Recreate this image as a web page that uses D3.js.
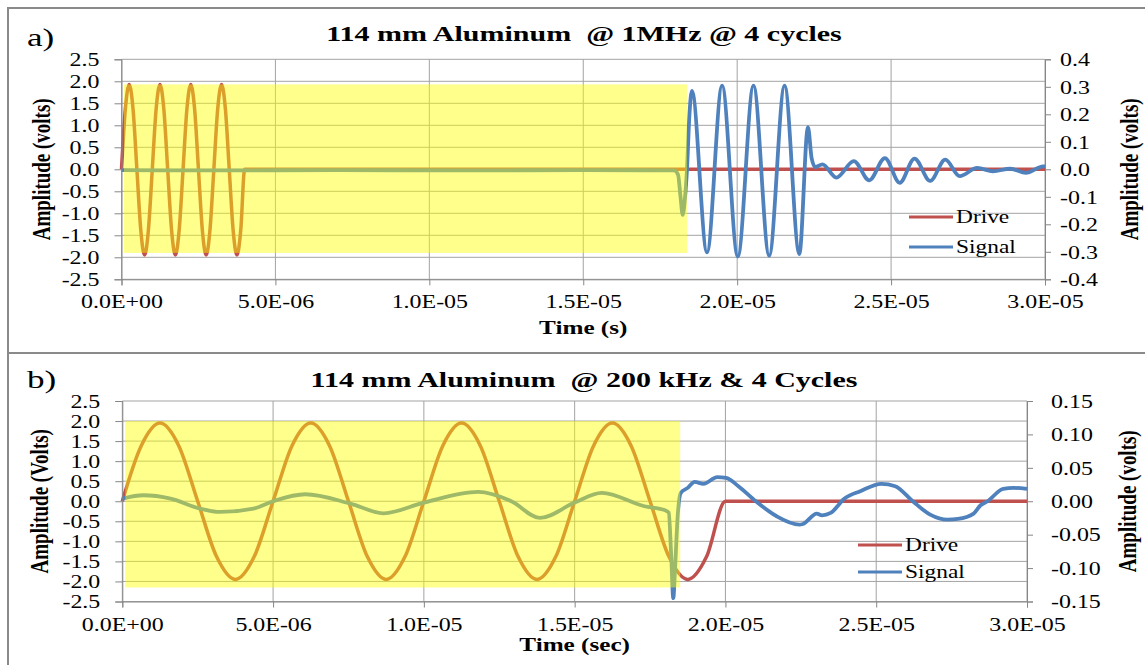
<!DOCTYPE html>
<html>
<head>
<meta charset="utf-8">
<script src="https://cdn.jsdelivr.net/npm/d3@7"></script>
<style>
  body { margin: 0; background: #fff; }
  svg { display: block; }
  text { font-family: "Liberation Serif", "Times New Roman", serif; white-space: pre; fill: #000; }
</style>
</head>
<body>
<div id="chart"></div>
<script>
// time in microseconds, drive in volts (left axis), signal in volts (right axis)
const driveA = [
  [0,0],[0.125,1.37],[0.25,1.93],[0.375,1.37],[0.5,0],[0.625,-1.37],[0.75,-1.95],[0.875,-1.37],
  [1,0],[1.125,1.37],[1.25,1.93],[1.375,1.37],[1.5,0],[1.625,-1.37],[1.75,-1.95],[1.875,-1.37],
  [2,0],[2.125,1.37],[2.25,1.93],[2.375,1.37],[2.5,0],[2.625,-1.37],[2.75,-1.95],[2.875,-1.37],
  [3,0],[3.125,1.37],[3.25,1.93],[3.375,1.37],[3.5,0],[3.625,-1.37],[3.75,-1.95],[3.875,-1.37],
  [4,0],[30,0]
];
const signalA = [
  [0,-0.003],[3,-0.004],[7,-0.003],[11,-0.004],[15,-0.003],[17.95,-0.004],[18.08,-0.02],
  [18.16,-0.1],[18.23,-0.166],[18.3,-0.11],[18.37,0],[18.45,0.2],[18.53,0.285],
  [19.02,-0.302],[19.51,0.304],[20.02,-0.317],[20.53,0.304],[21.04,-0.314],[21.54,0.304],
  [22.02,-0.308],[22.3,0.153],[22.42,0.04],[22.54,0.008],[22.77,0.018],[23.22,-0.03],
  [23.79,0.03],[24.29,-0.04],[24.8,0.041],[25.28,-0.049],[25.76,0.039],[26.27,-0.042],
  [26.76,0.035],[27.23,-0.025],[27.8,0.005],[28.31,-0.007],[28.87,0.002],[29.38,-0.013],
  [29.94,0.011],[30,0.011]
];
const driveB = [
  [0,0],[0.625,1.38],[1.25,1.95],[1.875,1.38],[2.5,0],[3.125,-1.38],[3.75,-1.95],[4.375,-1.38],
  [5,0],[5.625,1.38],[6.25,1.95],[6.875,1.38],[7.5,0],[8.125,-1.38],[8.75,-1.95],[9.375,-1.38],
  [10,0],[10.625,1.38],[11.25,1.95],[11.875,1.38],[12.5,0],[13.125,-1.38],[13.75,-1.95],[14.375,-1.38],
  [15,0],[15.625,1.38],[16.25,1.95],[16.875,1.38],[17.5,0],[18.125,-1.38],[18.75,-1.95],[19.375,-1.38],
  [20,0],[30,0]
];
const signalB = [
  [0,0.004],[0.7,0.009],[1.6,0.004],[2.58,-0.011],[3.24,-0.016],[4.35,-0.011],[5,0],
  [6.07,0.0105],[7.56,-0.0035],[8.66,-0.018],[10,-0.002],[11.8,0.014],[12.9,0],
  [13.85,-0.025],[15,-0.002],[15.9,0.0125],[17.31,-0.0075],[18,-0.0135],[18.12,-0.017],
  [18.2,-0.08],[18.27,-0.145],[18.33,-0.1],[18.42,-0.02],[18.52,0.0125],[18.75,0.02],
  [18.98,0.029],[19.27,0.026],[19.73,0.036],[20.02,0.035],[20.43,0.0225],[21.01,0],
  [21.7,-0.0225],[22.45,-0.035],[22.57,-0.034],[23.03,-0.0185],[23.2,-0.021],[23.49,-0.0175],
  [23.95,0.004],[24.47,0.015],[25.17,0.026],[25.63,0.0225],[26.21,0],[26.79,-0.02],
  [27.36,-0.0275],[27.71,-0.0265],[28.23,-0.0185],[28.46,-0.006],[28.69,0],[29.21,0.0185],
  [29.56,0.02],[30,0.0185]
];

// highlighted region (data units: microseconds, left-axis volts)
const shadeA = [0.08, 18.37, -1.9, 1.93];
const shadeB = [0.1, 18.5, -2.15, 2.0];

const xTicks = [0, 5, 10, 15, 20, 25, 30];
const xTickLabels = ["0.0E+00", "5.0E-06", "1.0E-05", "1.5E-05", "2.0E-05", "2.5E-05", "3.0E-05"];
const leftTicks = [-2.5, -2, -1.5, -1, -0.5, 0, 0.5, 1, 1.5, 2, 2.5];
const rightTicksA = [-0.4, -0.3, -0.2, -0.1, 0, 0.1, 0.2, 0.3, 0.4];
const rightTicksB = [-0.15, -0.1, -0.05, 0, 0.05, 0.1, 0.15];
const seriesNames = ["Drive", "Signal"];
const colors = ["#C0504D", "#4F81BD"];

const width = 1145, height = 665;
const svg = d3.select('#chart').append('svg')
  .attr('width', width)
  .attr('height', height);

// text gets stretched horizontally like the source figure
function txt(parent, x, y, str, o) {
  let tr = `translate(${x},${y}) scale(${o.sx},1)`;
  if (o.rotate) tr += ' rotate(-90)';
  parent.append('g')
    .attr('transform', tr)
    .append('text')
    .attr('text-anchor', o.anchor || 'start')
    .style('font-size', o.size + 'px')
    .style('font-weight', o.bold ? 'bold' : 'normal')
    .text(str);
}

const panels = [
  {
    letter: 'a)', title: '114 mm Aluminum  @ 1MHz @ 4 cycles',
    xLabel: 'Time (s)', yLabel: 'Amplitude (volts)', y2Label: 'Amplitude (volts)',
    box: [8, 8, 345],
    left: 121.5, right: 1045, top: 59.3, bottom: 279.3,
    y2Ticks: rightTicksA, y2Digits: 1, drive: driveA, signal: signalA, shade: shadeA,
    letterY: 46, titleY: 41, xLabelY: 334, yLabelX: 50, y2LabelX: 1138,
    y2TextX: 15, legendX: 909, legendY: [217, 247]
  },
  {
    letter: 'b)', title: '114 mm Aluminum  @ 200 kHz & 4 Cycles',
    xLabel: 'Time (sec)', yLabel: 'Amplitude (Volts)', y2Label: 'Amplitude (volts)',
    box: [8, 353, 360],
    left: 122.3, right: 1027, top: 401, bottom: 601.5,
    y2Ticks: rightTicksB, y2Digits: 2, drive: driveB, signal: signalB, shade: shadeB,
    letterY: 388, titleY: 387, xLabelY: 651, yLabelX: 48, y2LabelX: 1136,
    y2TextX: 24, legendX: 858, legendY: [545, 572]
  }
];

panels.forEach(p => {
  const g = svg.append('g');

  // panel frame
  g.append('rect')
    .attr('x', p.box[0]).attr('y', p.box[1])
    .attr('width', 1200).attr('height', p.box[2])
    .attr('fill', 'none').attr('stroke', '#8a8a8a').attr('stroke-width', 2);

  const x = d3.scaleLinear().domain([0, 30]).range([p.left, p.right]);
  const y = d3.scaleLinear().domain([-2.5, 2.5]).range([p.bottom, p.top]);
  const y2 = d3.scaleLinear().domain([p.y2Ticks[0], p.y2Ticks[p.y2Ticks.length - 1]]).range([p.bottom, p.top]);

  // gridlines
  g.append('g').selectAll('line').data(leftTicks).enter().append('line')
    .attr('x1', p.left).attr('x2', p.right)
    .attr('y1', d => y(d)).attr('y2', d => y(d))
    .attr('stroke', '#a3a3a3').attr('stroke-width', 1);
  g.append('g').selectAll('line').data(xTicks).enter().append('line')
    .attr('x1', d => x(d)).attr('x2', d => x(d))
    .attr('y1', p.top).attr('y2', p.bottom)
    .attr('stroke', '#a3a3a3').attr('stroke-width', 1);

  // series
  const lineL = d3.line().x(d => x(d[0])).y(d => y(d[1])).curve(d3.curveMonotoneX);
  const lineR = d3.line().x(d => x(d[0])).y(d => y2(d[1])).curve(d3.curveMonotoneX);
  g.append('path').datum(p.drive)
    .attr('d', lineL).attr('fill', 'none')
    .attr('stroke', colors[0]).attr('stroke-width', 3.5).attr('stroke-linejoin', 'round');
  g.append('path').datum(p.signal)
    .attr('d', lineR).attr('fill', 'none')
    .attr('stroke', colors[1]).attr('stroke-width', 3.8).attr('stroke-linejoin', 'round');

  // yellow highlight laid over the traces
  g.append('rect')
    .attr('x', x(p.shade[0])).attr('y', y(p.shade[3]))
    .attr('width', x(p.shade[1]) - x(p.shade[0]))
    .attr('height', y(p.shade[2]) - y(p.shade[3]))
    .attr('fill', '#ffff00').attr('fill-opacity', 0.45);

  // axes
  const ax = g.append('g')
    .attr('transform', `translate(0,${p.bottom})`)
    .call(d3.axisBottom(x).tickValues(xTicks).tickSize(6).tickFormat((d, i) => xTickLabels[i]));
  ax.selectAll('text').attr('y', 0).attr('dy', 0)
    .attr('transform', `translate(0,29) scale(1.33,1)`);

  const ayl = g.append('g')
    .attr('transform', `translate(${p.left},0)`)
    .call(d3.axisLeft(y).tickValues(leftTicks).tickSize(7).tickFormat(d => d.toFixed(1)));
  ayl.selectAll('text').attr('x', 0).attr('dy', '0.35em')
    .attr('transform', `translate(-22,0) scale(1.33,1)`);

  const ayr = g.append('g')
    .attr('transform', `translate(${p.right},0)`)
    .call(d3.axisRight(y2).tickValues(p.y2Ticks).tickSize(6).tickFormat(d => d.toFixed(p.y2Digits)));
  ayr.selectAll('text').attr('x', 0).attr('dy', '0.35em')
    .attr('transform', `translate(${p.y2TextX},0) scale(1.33,1)`);

  [ax, ayl, ayr].forEach(a => {
    a.select('.domain').attr('stroke', '#868686');
    a.selectAll('.tick line').attr('stroke', '#868686');
    a.selectAll('text')
      .style('font-family', '"Liberation Serif", serif')
      .style('font-size', '18px')
      .attr('fill', '#000');
  });

  // labels
  txt(g, 27, p.letterY, p.letter, { sx: 1.35, size: 26 });
  txt(g, 584, p.titleY, p.title, { sx: 1.5, size: 20, bold: true, anchor: 'middle' });
  txt(g, (p.left + p.right) / 2, p.xLabelY, p.xLabel, { sx: 1.4, size: 18, bold: true, anchor: 'middle' });
  txt(g, p.yLabelX, (p.top + p.bottom) / 2, p.yLabel, { sx: 1.3, size: 19, bold: true, anchor: 'middle', rotate: true });
  txt(g, p.y2LabelX, (p.top + p.bottom) / 2, p.y2Label, { sx: 1.3, size: 19, bold: true, anchor: 'middle', rotate: true });

  // legend
  seriesNames.forEach((name, i) => {
    g.append('line')
      .attr('x1', p.legendX).attr('x2', p.legendX + 44)
      .attr('y1', p.legendY[i]).attr('y2', p.legendY[i])
      .attr('stroke', colors[i]).attr('stroke-width', 3);
    txt(g, p.legendX + 47, p.legendY[i] + 6, name, { sx: 1.3, size: 18 });
  });
});
</script>
</body>
</html>
